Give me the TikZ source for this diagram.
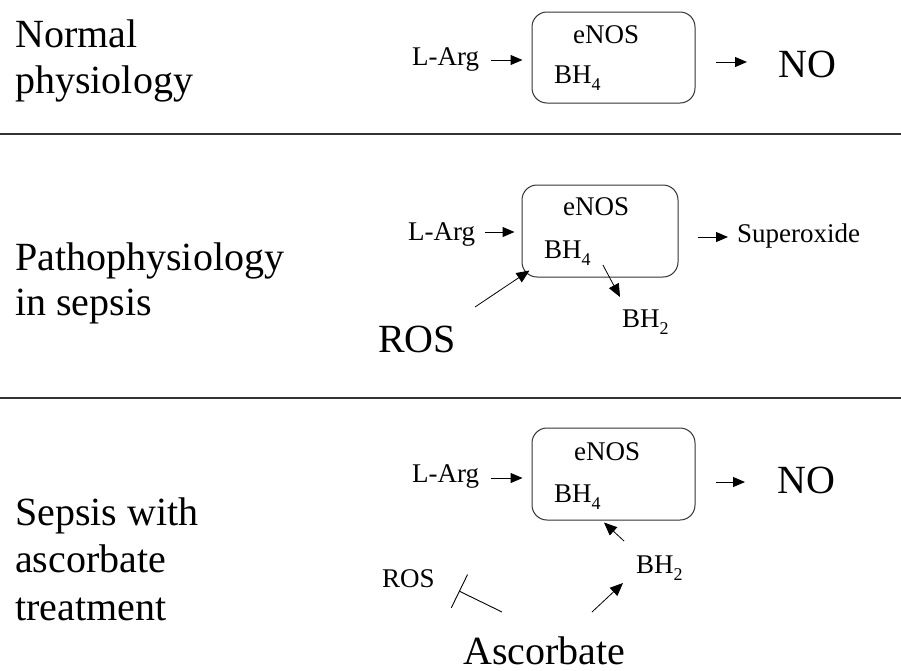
\documentclass[tikz,border=0pt]{standalone}
\usepackage{fontspec}
\setmainfont{Liberation Serif}
\usetikzlibrary{arrows.meta}
\newcommand{\bigf}{\fontsize{40}{46}\selectfont}
\newcommand{\smallf}{\fontsize{27}{31}\selectfont}
\newcommand{\subf}{\fontsize{18}{20}\selectfont}
\newcommand{\BHn}[1]{BH\raisebox{-0.28em}{\subf #1}}
\tikzset{
  lbl/.style={anchor=base west, inner sep=0pt, font=\bigf},
  sm/.style={anchor=base west, inner sep=0pt, font=\smallf},
  enzbox/.style={draw=black!80, line width=1pt, rounded corners=15pt, inner sep=0pt},
  arr/.style={-{Triangle[length=12pt,width=10pt]}, line width=1pt},
  thinarr/.style={-{Triangle[length=13pt,width=11pt]}, line width=0.8pt},
  inhib/.style={-{Bar[width=37pt]}, line width=0.9pt},
  sep/.style={draw=black!80, line width=1.4pt}
}
\begin{document}
\begin{tikzpicture}[x=1pt,y=-1pt]
\useasboundingbox (0,0) rectangle (901,670);
\fill[white] (0,0) rectangle (901,670);
% separators
\draw[sep] (0,134) -- (901,134);
\draw[sep] (0,398) -- (901,398);
% left labels
\node[lbl] (t1a) at (15,47) {Normal};
\node[lbl] (t1b) at (15,93) {physiology};
\node[lbl] (t2a) at (15,270) {Pathophysiology};
\node[lbl] (t2b) at (15,315) {in sepsis};
\node[lbl] (t3a) at (15,525) {Sepsis with};
\node[lbl] (t3b) at (15,572) {ascorbate};
\node[lbl] (t3c) at (15,620) {treatment};
% ---------------- panel 1
\node[enzbox, minimum width=163pt, minimum height=91pt] (box1) at (613.5,57.5) {};
\node[sm] (la1) at (412,65) {L-Arg};
\node[sm] (en1) at (573,43) {eNOS};
\node[sm] (bh1) at (554,83) {\BHn{4}};
\node[lbl] (no1) at (778,77) {NO};
\draw[arr] ([xshift=12pt,yshift=5pt]la1.base east) -- ([xshift=-9pt,yshift=-2.5pt]box1.west);
\draw[arr] ([xshift=20pt,yshift=-4.5pt]box1.east) -- ([xshift=-31pt,yshift=15pt]no1.base west);
% ---------------- panel 2
\node[enzbox, minimum width=156pt, minimum height=92pt] (box2) at (600,231) {};
\node[sm] (la2) at (408,240) {L-Arg};
\node[sm] (en2) at (563,215) {eNOS};
\node[sm] (bh2a) at (544,258) {\BHn{4}};
\node[sm] (so2) at (737,242) {Superoxide};
\node[sm] (bh2b) at (622,327) {\BHn{2}};
\node[lbl] (ros2) at (378,352) {ROS};
\draw[arr] ([xshift=10pt,yshift=8pt]la2.base east) -- ([xshift=-7pt,yshift=-1pt]box2.west);
\draw[arr] ([xshift=19pt,yshift=-6pt]box2.east) -- ([xshift=-9pt,yshift=5pt]so2.base west);
\draw[thinarr] ([xshift=12pt,yshift=-7pt]bh2a.base east) -- ([xshift=-2pt,yshift=30pt]bh2b.base west);
\draw[thinarr] ([xshift=97pt,yshift=45pt]ros2.base west) -- ([xshift=8pt,yshift=7pt]box2.south west);
% ---------------- panel 3
\node[enzbox, minimum width=163pt, minimum height=92pt] (box3) at (613.5,474) {};
\node[sm] (la3) at (412,482) {L-Arg};
\node[sm] (en3) at (574,460) {eNOS};
\node[sm] (bh3) at (554,502) {\BHn{4}};
\node[lbl] (no3) at (777,493) {NO};
\node[sm] (bh3b) at (636,573) {\BHn{2}};
\node[sm] (ros3) at (382,587) {ROS};
\node[lbl] (asc) at (463,664) {Ascorbate};
\draw[arr] ([xshift=12pt,yshift=4pt]la3.base east) -- ([xshift=-9pt,yshift=-4pt]box3.west);
\draw[arr] ([xshift=20pt,yshift=-8pt]box3.east) -- ([xshift=-32pt,yshift=11pt]no3.base west);
\draw[thinarr] ([xshift=-12pt,yshift=32pt]bh3b.base west) -- ([xshift=-9.5pt,yshift=-2pt]box3.south);
\draw[thinarr] ([xshift=129pt,yshift=52pt]asc.base west) -- ([xshift=-13pt,yshift=-10pt]bh3b.base west);
\draw[inhib] ([xshift=39pt,yshift=52pt]asc.base west) -- ([xshift=77pt,yshift=-4pt]ros3.base west);
\end{tikzpicture}
\end{document}
